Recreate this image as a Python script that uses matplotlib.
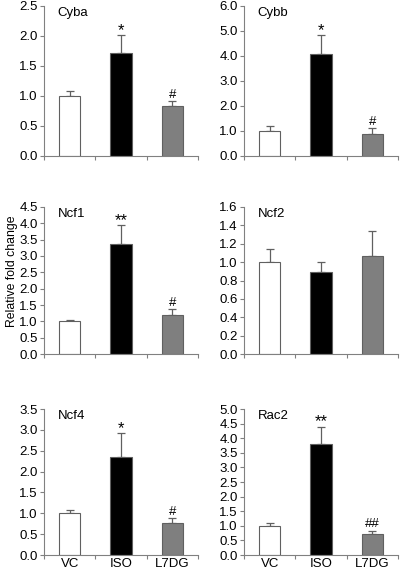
import matplotlib.pyplot as plt

plt.rcParams["font.family"] = ["Liberation Sans", "DejaVu Sans"]

groups = ["VC", "ISO", "L7DG"]
genes = ["Cyba", "Cybb", "Ncf1", "Ncf2", "Ncf4", "Rac2"]

cyba = [1.00, 1.72, 0.83]
cyba_err = [0.08, 0.29, 0.08]
cybb = [1.00, 4.08, 0.88]
cybb_err = [0.18, 0.77, 0.22]
ncf1 = [1.00, 3.38, 1.20]
ncf1_err = [0.04, 0.57, 0.17]
ncf2 = [1.00, 0.89, 1.07]
ncf2_err = [0.14, 0.11, 0.27]
ncf4 = [1.00, 2.35, 0.76]
ncf4_err = [0.09, 0.58, 0.12]
rac2 = [1.00, 3.80, 0.73]
rac2_err = [0.10, 0.60, 0.10]

means = [cyba, cybb, ncf1, ncf2, ncf4, rac2]
errs = [cyba_err, cybb_err, ncf1_err, ncf2_err, ncf4_err, rac2_err]
signif = [["", "*", "#"], ["", "*", "#"], ["", "**", "#"],
          ["", "", ""], ["", "*", "#"], ["", "**", "##"]]
ymax = [2.5, 6.0, 4.5, 1.6, 3.5, 5.0]
ystep = [0.5, 1.0, 0.5, 0.2, 0.5, 0.5]

colors = ["white", "black", "#7f7f7f"]
axcol = "#808080"

fig = plt.figure(figsize=(4.0, 5.71), dpi=100)
lefts = [0.11, 0.61]
rows = [(0.7268, 0.2627), (0.380, 0.2575), (0.028, 0.2557)]

for i, gene in enumerate(genes):
    r, c = divmod(i, 2)
    ax = fig.add_axes([lefts[c], rows[r][0], 0.385, rows[r][1]])
    x = range(len(groups))
    ax.bar(x, means[i], width=0.41, color=colors, edgecolor="#606060",
           linewidth=0.8, zorder=2)
    ax.errorbar(x, means[i], yerr=[[0, 0, 0], errs[i]], fmt="none",
                ecolor="#606060", elinewidth=0.9, capsize=3, capthick=0.9,
                zorder=1)
    for xi, m, e, s in zip(x, means[i], errs[i], signif[i]):
        if s == "":
            continue
        if "*" in s:
            ax.text(xi, m + e - ymax[i] * 0.02, s, ha="center", va="bottom",
                    fontsize=12)
        else:
            ax.text(xi, m + e + ymax[i] * 0.005, s, ha="center", va="bottom",
                    fontsize=9.5)
    ax.set_xlim(-0.5, 2.5)
    ax.set_ylim(0, ymax[i])
    n = int(round(ymax[i] / ystep[i]))
    ax.set_yticks([k * ystep[i] for k in range(n + 1)])
    ax.set_yticklabels([f"{k * ystep[i]:.1f}" for k in range(n + 1)],
                       fontsize=9.5)
    ax.set_xticks([-0.5, 0.5, 1.5, 2.5])
    ax.set_xticklabels([])
    ax.set_xticks([0, 1, 2], minor=True)
    if r == 2:
        ax.set_xticklabels(groups, minor=True, fontsize=9.5)
    ax.tick_params(axis="x", which="minor", length=0, pad=2)
    ax.tick_params(axis="x", which="major", length=3, color=axcol)
    ax.tick_params(axis="y", length=3, color=axcol, pad=1.5)
    for sp in ["top", "right"]:
        ax.spines[sp].set_visible(False)
    for sp in ["left", "bottom"]:
        ax.spines[sp].set_color(axcol)
        ax.spines[sp].set_linewidth(0.8)
    ax.text(0.09, 0.99, gene, transform=ax.transAxes, ha="left", va="top",
            fontsize=9.5)

fig.text(0.03, 0.525, "Relative fold change", rotation=90, ha="center",
         va="center", fontsize=8.8)

fig.savefig("out.png", dpi=100)
